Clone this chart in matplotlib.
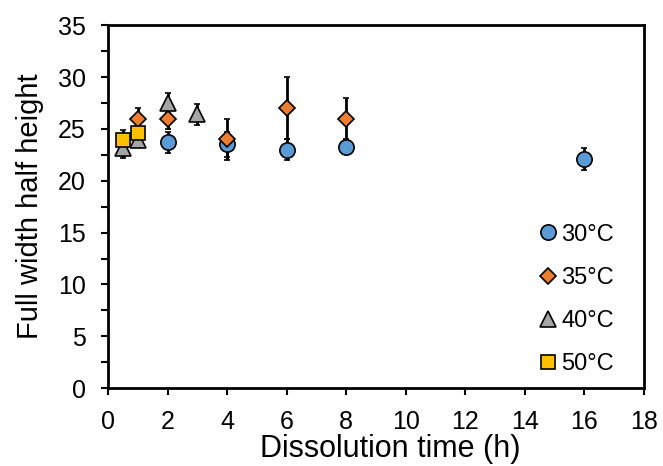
import matplotlib.pyplot as plt
from matplotlib.ticker import MultipleLocator

plt.rcParams['font.family'] = ['Liberation Sans', 'DejaVu Sans']

# data
t30 = [2, 4, 6, 8, 16]
y30 = [23.7, 23.5, 23.0, 23.3, 22.1]
e30 = [1.0, 1.2, 1.0, 0.6, 1.1]

t35 = [1, 2, 4, 6, 8]
y35 = [26.0, 26.0, 24.0, 27.0, 26.0]
e35 = [1.0, 1.0, 2.0, 3.0, 2.0]

t40 = [0.5, 1, 2, 3]
y40 = [23.2, 23.9, 27.5, 26.4]
e40 = [1.0, 0.5, 1.0, 1.0]

t50 = [0.5, 1]
y50 = [23.9, 24.6]
e50 = [1.0, 0.5]

fig = plt.figure(figsize=(6.63, 4.66), dpi=100)
ax = fig.add_axes([0.163, 0.167, 0.808, 0.779])

series = [
    (t30, y30, e30, 'o', '#5B9BD5', 11, '30°C'),
    (t35, y35, e35, 'D', '#ED7D31', 8, '35°C'),
    (t40, y40, e40, '^', '#A5A5A5', 11, '40°C'),
    (t50, y50, e50, 's', '#FFC000', 10, '50°C'),
]
for t, y, e, m, c, ms, lab in series:
    ax.errorbar(t, y, yerr=e, fmt=m, color='black', mfc=c, mec='black',
                mew=1.2, ms=ms, ecolor='black', elinewidth=2, capsize=2,
                capthick=2, label=lab)

ax.set_xlim(0, 18)
ax.set_ylim(0, 35)
ax.xaxis.set_major_locator(MultipleLocator(2))
ax.yaxis.set_major_locator(MultipleLocator(5))
ax.yaxis.set_minor_locator(MultipleLocator(2.5))
ax.tick_params(axis='both', which='both', direction='out', length=5,
               width=1.5, labelsize=18)
ax.tick_params(axis='x', pad=11)
ax.tick_params(axis='y', pad=11)
for s in ax.spines.values():
    s.set_linewidth(2)

ax.set_xlabel('Dissolution time (h)', fontsize=22, labelpad=0, x=0.526)
ax.set_ylabel('Full width half height', fontsize=21, labelpad=10)

handles, labels = ax.get_legend_handles_labels()
handles = [h[0] for h in handles]
ax.legend(handles, labels, loc='lower right', frameon=False, fontsize=17,
          handletextpad=0.05, labelspacing=0.9, handlelength=1.0,
          bbox_to_anchor=(0.984, -0.023))

fig.savefig('out.png', dpi=100)
